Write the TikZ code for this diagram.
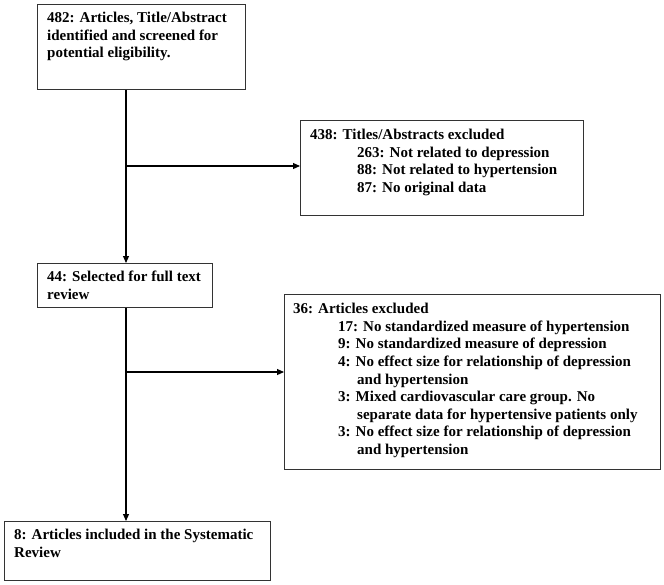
\documentclass[tikz,border=0pt]{standalone}
\usepackage{fontspec}
\setmainfont{Liberation Serif}
\usetikzlibrary{arrows.meta}
\begin{document}
\begin{tikzpicture}[x=1pt,y=-1pt,
  box/.style={draw=black!80, line width=1.1pt, anchor=north west, inner sep=0pt, rectangle},
  txt/.style={anchor=north west, align=left, inner sep=0pt, font=\bfseries\fontsize{15}{17.6}\selectfont},
  arr/.style={line width=1.1pt, -{Triangle[length=7pt,width=6pt]}},
  ln/.style={line width=1.1pt}]
\useasboundingbox (0,0) rectangle (664,584);
\node[box, minimum width=208pt, minimum height=85pt] (b1) at (37,4) {};
\node[box, minimum width=283pt, minimum height=95pt] (b2) at (300,120) {};
\node[box, minimum width=175pt, minimum height=44pt] (b3) at (37,263) {};
\node[box, minimum width=376pt, minimum height=175pt] (b4) at (284,294) {};
\node[box, minimum width=266pt, minimum height=59pt] (b5) at (4,521) {};

\node[txt] (t1) at (47,12) {482: Articles, Title/Abstract\\identified and screened for\\potential eligibility.};
\node[txt] (t2) at (310,129) {438: Titles/Abstracts excluded\\
\hspace*{47pt}263: Not related to depression\\
\hspace*{47pt}88: Not related to hypertension\\
\hspace*{47pt}87: No original data};
\node[txt] (t3) at (47,271) {44: Selected for full text\\review};
\node[txt] (t4) at (293,303) {36: Articles excluded\\
\hspace*{45pt}17: No standardized measure of hypertension\\
\hspace*{45pt}9: No standardized measure of depression\\
\hspace*{45pt}4: No effect size for relationship of depression\\
\hspace*{64pt}and hypertension\\
\hspace*{45pt}3: Mixed cardiovascular care group. No\\
\hspace*{64pt}separate data for hypertensive patients only\\
\hspace*{45pt}3: No effect size for relationship of depression\\
\hspace*{64pt}and hypertension};
\node[txt] (t5) at (14,529) {8: Articles included in the Systematic\\Review};

\coordinate (v) at (126,0);
\coordinate (j1) at (126,166);
\coordinate (j2) at (126,372);
\draw[arr] (v |- b1.south) -- (v |- b3.north);
\draw[arr] (v |- b3.south) -- (v |- b5.north);
\draw[arr] (j1) -- (j1 -| b2.west);
\draw[arr] (j2) -- (j2 -| b4.west);
\end{tikzpicture}
\end{document}
